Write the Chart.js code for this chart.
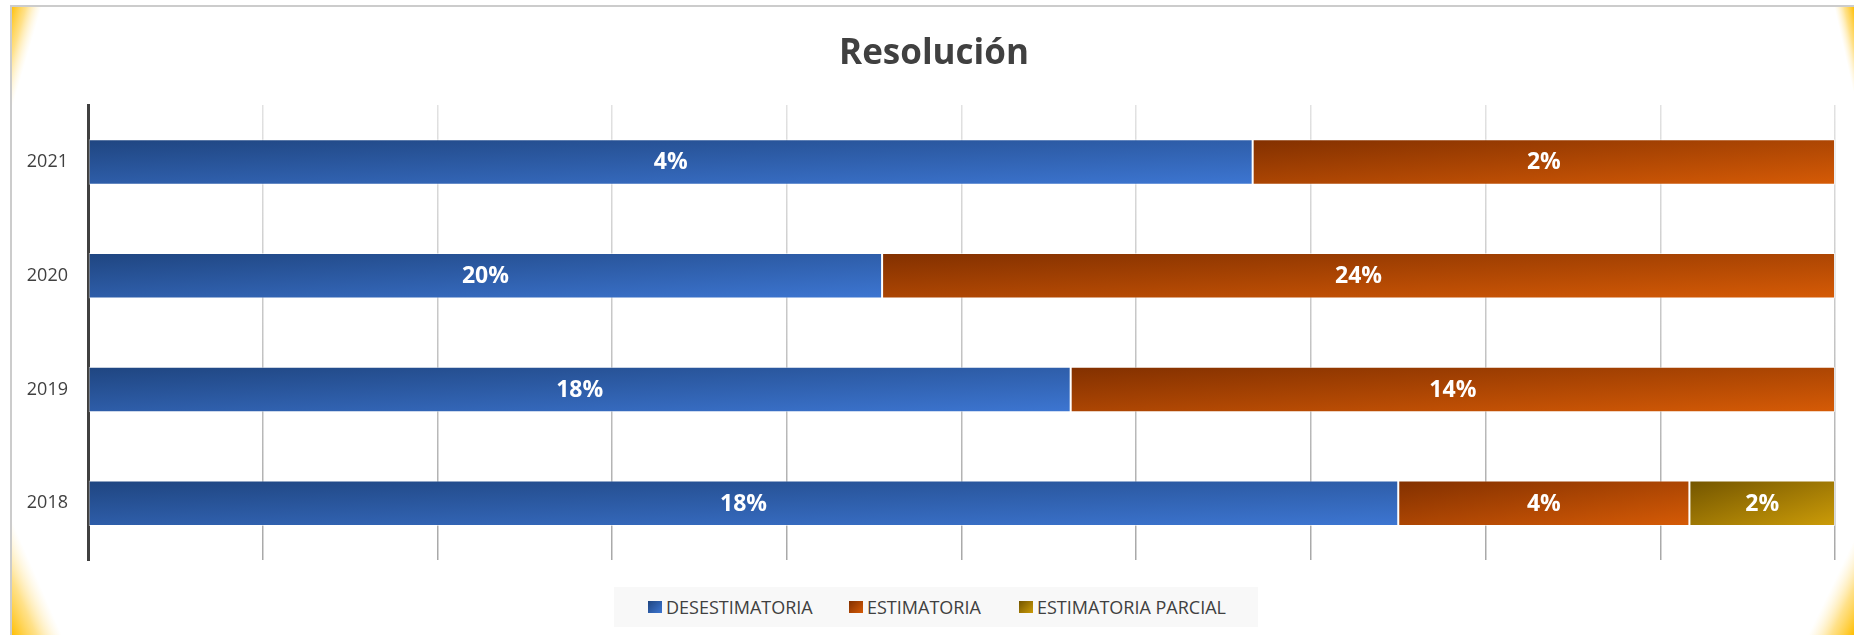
<!DOCTYPE html>
<html>
<head>
<meta charset="utf-8">
<script src="https://cdn.jsdelivr.net/npm/chart.js@4/dist/chart.umd.min.js"></script>
<style>
  body { margin: 0; background: #fff; }
  #wrap { position: relative; width: 1854px; height: 635px; }
  #legend {
    position: absolute; left: 614px; top: 587px; width: 644px; height: 40px;
    background: #f8f8f8; font-family: "Open Sans", sans-serif; font-size: 18px; color: #404040;
  }
  .item { position: absolute; top: 0; height: 40px; display: flex; align-items: center; white-space: nowrap; }
  .box { width: 14px; height: 12px; margin-right: 4px; }
</style>
</head>
<body>
<div id="wrap">
  <canvas id="myChart" width="1854" height="635"></canvas>
  <div id="legend"></div>
</div>
<script>
// data
var categories = ["2021", "2020", "2019", "2018"];
var desestimatoria = [4, 20, 18, 18];
var estimatoria = [2, 24, 14, 4];
var estimatoriaParcial = [null, null, null, 2];
var seriesNames = ["DESESTIMATORIA", "ESTIMATORIA", "ESTIMATORIA PARCIAL"];
var chartTitle = "Resolución";

var series = [desestimatoria, estimatoria, estimatoriaParcial];
var colors = [
  ["#1f4580", "#3d76d2"],
  ["#823000", "#d65b06"],
  ["#735500", "#cc9c08"],
];

// legend (html, under the canvas)
var legendX = [648, 849, 1019];
var legend = document.getElementById("legend");
seriesNames.forEach(function (name, i) {
  var item = document.createElement("div");
  item.className = "item";
  item.style.left = (legendX[i] - 614) + "px";
  var box = document.createElement("span");
  box.className = "box";
  box.style.background = "linear-gradient(135deg," + colors[i][0] + "," + colors[i][1] + ")";
  item.appendChild(box);
  item.appendChild(document.createTextNode(name));
  legend.appendChild(item);
});

// each bar is shown as its share of the year's total (100% stacked)
var totals = categories.map(function (c, i) {
  return series.reduce(function (s, arr) { return s + (arr[i] || 0); }, 0);
});
var shares = series.map(function (arr) {
  return arr.map(function (v, i) { return v == null ? null : (v / totals[i]) * 100; });
});

function barFill(di) {
  return function (ctx) {
    var c = colors[di];
    var chart = ctx.chart;
    var xs = chart.scales.x, ys = chart.scales.y;
    if (ctx.type !== "data" || !xs || !ys) return c[1];
    var i = ctx.dataIndex;
    var start = 0;
    for (var d = 0; d < di; d++) start += shares[d][i] || 0;
    var v = shares[di][i] || 0;
    var xa = xs.getPixelForValue(start), xb = xs.getPixelForValue(start + v);
    var w = Math.max(1, xb - xa);
    var h = Math.abs(ys.getPixelForValue(1) - ys.getPixelForValue(0)) * 0.4;
    var top = ys.getPixelForValue(i) - h / 2;
    if (!isFinite(xa) || !isFinite(w) || !isFinite(h) || !isFinite(top) || h < 1) return c[1];
    var a = 1 / (2 * w), b = 1 / (2 * h), n = a * a + b * b;
    var g = chart.ctx.createLinearGradient(xa, top, xa + a / n, top + b / n);
    g.addColorStop(0, c[0]);
    g.addColorStop(1, c[1]);
    return g;
  };
}

var datasets = series.map(function (arr, di) {
  return {
    label: seriesNames[di],
    data: shares[di],
    rawValues: arr,
    backgroundColor: barFill(di),
    borderColor: "rgba(255,255,255,0.55)",
    borderWidth: 1,
    borderSkipped: false,
    categoryPercentage: 1,
    barPercentage: 0.4,
  };
});

function wedge(ctx, corner, p1, p2) {
  var ex = p2[0] - p1[0], ey = p2[1] - p1[1];
  var t = ((corner[0] - p1[0]) * ex + (corner[1] - p1[1]) * ey) / (ex * ex + ey * ey);
  var fx = p1[0] + t * ex, fy = p1[1] + t * ey;
  var g = ctx.createLinearGradient(corner[0], corner[1], fx, fy);
  g.addColorStop(0, "rgba(255,190,0,1)");
  g.addColorStop(0.5, "rgba(255,205,60,0.6)");
  g.addColorStop(1, "rgba(255,230,160,0)");
  ctx.fillStyle = g;
  ctx.beginPath();
  ctx.moveTo(corner[0], corner[1]);
  ctx.lineTo(p1[0], p1[1]);
  ctx.lineTo(p2[0], p2[1]);
  ctx.closePath();
  ctx.fill();
}

var frame = {
  id: "frame",
  beforeDraw: function (chart) {
    var ctx = chart.ctx;
    ctx.save();
    ctx.fillStyle = "#fff";
    ctx.fillRect(0, 0, chart.width, chart.height);
    wedge(ctx, [11, 6], [42, 6], [11, 112]);
    wedge(ctx, [11, 635], [11, 518], [62, 635]);
    wedge(ctx, [1854, 6], [1834, 6], [1854, 95]);
    wedge(ctx, [1854, 635], [1854, 540], [1808, 635]);
    ctx.strokeStyle = "#cccccc";
    ctx.lineWidth = 2;
    ctx.beginPath();
    ctx.moveTo(11, 635);
    ctx.lineTo(11, 6);
    ctx.lineTo(1854, 6);
    ctx.stroke();
    // title
    ctx.fillStyle = "#404040";
    ctx.font = 'bold 35px "Open Sans"';
    ctx.textAlign = "center";
    ctx.textBaseline = "alphabetic";
    ctx.fillText(chartTitle, 934, 64);
    ctx.restore();
  },
};

var valueLabels = {
  id: "valueLabels",
  afterDatasetsDraw: function (chart) {
    var ctx = chart.ctx;
    ctx.save();
    ctx.fillStyle = "#ffffff";
    ctx.font = 'bold 23px "Open Sans"';
    ctx.textAlign = "center";
    ctx.textBaseline = "middle";
    chart.data.datasets.forEach(function (ds, di) {
      chart.getDatasetMeta(di).data.forEach(function (bar, i) {
        var raw = ds.rawValues[i];
        if (!raw) return;
        var p = bar.getCenterPoint();
        ctx.fillText(raw + "%", p.x, p.y + 1);
      });
    });
    ctx.restore();
  },
};

function gridColor(c) {
  var ca = c.chart.chartArea;
  if (!ca || !isFinite(ca.top) || !isFinite(ca.bottom) || ca.bottom <= ca.top) return "#c8c8c8";
  var g = c.chart.ctx.createLinearGradient(0, ca.top, 0, ca.bottom);
  g.addColorStop(0, "#e2e2e2");
  g.addColorStop(1, "#a8a8a8");
  return g;
}

var ctx = document.getElementById("myChart").getContext("2d");
var chart = new Chart(ctx, {
  type: "bar",
  data: { labels: categories, datasets: datasets },
  options: {
    responsive: false,
    animation: false,
    indexAxis: "y",
    layout: { padding: { left: 0, right: 19, top: 105, bottom: 75 } },
    plugins: {
      legend: { display: false },
      tooltip: { enabled: false },
      title: { display: false },
    },
    scales: {
      x: {
        stacked: true,
        min: 0,
        max: 100,
        ticks: { display: false, stepSize: 10 },
        grid: { drawTicks: false, lineWidth: 1.5, color: gridColor },
        border: { display: false },
      },
      y: {
        stacked: true,
        ticks: { color: "#404040", font: { family: "Open Sans", size: 18 }, padding: 20 },
        grid: { display: false, drawTicks: false },
        border: { display: true, color: "#404040", width: 3 },
        afterFit: function (s) { s.width = 88; },
      },
    },
  },
  plugins: [frame, valueLabels],
});
</script>
</body>
</html>
